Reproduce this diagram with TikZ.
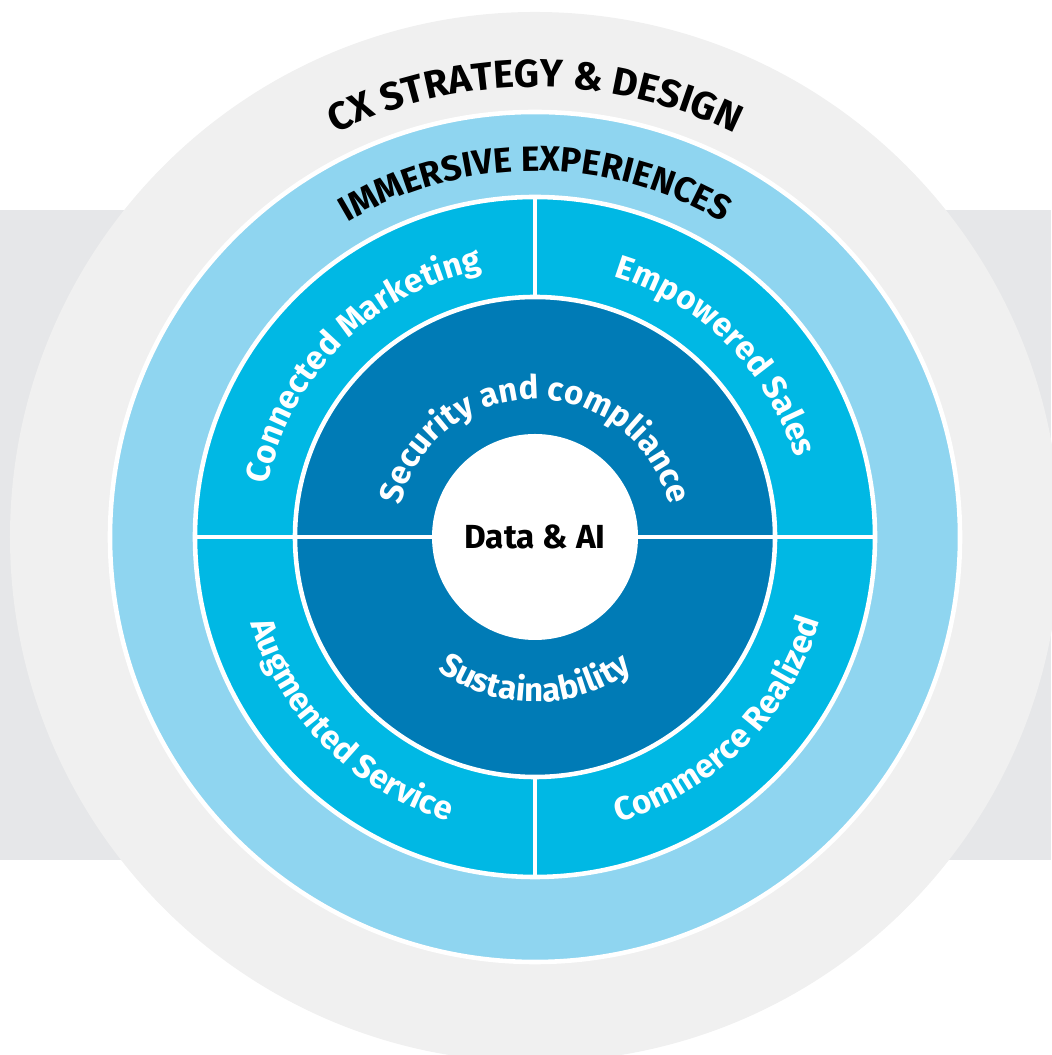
\documentclass[tikz,border=0pt]{standalone}
\usepackage{fontspec}
\setmainfont{Fira Sans}
\usetikzlibrary{decorations.text}

\definecolor{bandgray}{HTML}{E6E7E9}
\definecolor{ringgray}{HTML}{F0F0F0}
\definecolor{lightblue}{HTML}{8FD5F0}
\definecolor{midblue}{HTML}{00B8E4}
\definecolor{darkblue}{HTML}{007BB6}

\newcommand{\headfont}{\bfseries\fontsize{11.1}{13}\selectfont}
\newcommand{\subheadfont}{\bfseries\fontsize{10}{12}\selectfont}
\newcommand{\pillarfont}{\bfseries\fontsize{9.4}{11}\selectfont}
\newcommand{\basefont}{\bfseries\fontsize{9.4}{11}\selectfont}

\tikzset{
    ring/.style={circle, draw=white, line width=1.3pt},
    divider/.style={draw=white, line width=1.3pt},
    headtext/.style 2 args={decorate, decoration={text along path, text align=center,
        text={|#1|#2}}},
    pillartext/.style 2 args={decorate, decoration={text along path, text align=center,
        text color=white, text={|#1|#2}}}
}

\begin{document}
\begin{tikzpicture}
    \useasboundingbox (-5.35,-5.18) rectangle (5.16,5.37);
    \fill[bandgray] (-5.35,-3.23) rectangle (5.16,3.27);

    \node[circle, fill=ringgray, minimum size=10.5cm] (cx) at (0, 0) {};
    \node[ring, fill=lightblue, minimum size=8.5cm] (immersive) at (0, 0) {};
    \node[ring, fill=midblue, minimum size=6.8cm] (pillars) at (0, 0) {};
    \node[ring, fill=darkblue, minimum size=4.8cm] (base) at (0, 0) {};

    \coordinate (top) at (pillars.north);
    \coordinate (bottom) at (pillars.south);
    \draw[divider] (pillars.west) -- (pillars.east);
    \draw[divider] (base.north) -- (top);
    \draw[divider] (base.south) -- (bottom);

    \node[circle, fill=white, minimum size=2.06cm, font=\bfseries\fontsize{9.5}{11}\selectfont] (core) at (0, 0) {Data \& AI};

    % curved labels
    \path[headtext={\headfont}{CX STRATEGY {\&} DESIGN}] (180:4.50) arc[start angle=180, end angle=0, radius=4.50];
    \path[headtext={\subheadfont}{IMMERSIVE EXPERIENCES}] (180:3.66) arc[start angle=180, end angle=0, radius=3.66];

    \path[pillartext={\pillarfont}{Connected Marketing}] (180:2.72) arc[start angle=180, end angle=90, radius=2.72];
    \path[pillartext={\pillarfont}{Empowered Sales}] (90:2.72) arc[start angle=90, end angle=0, radius=2.72];
    \path[pillartext={\pillarfont}{Augmented Service}] (180:2.97) arc[start angle=180, end angle=270, radius=2.97];
    \path[pillartext={\pillarfont}{Commerce Realized}] (270:2.97) arc[start angle=270, end angle=360, radius=2.97];

    \path[pillartext={\basefont}{Security and compliance}] (180:1.38) arc[start angle=180, end angle=0, radius=1.38];
    \path[pillartext={\basefont}{Sustainability}] (180:1.65) arc[start angle=180, end angle=360, radius=1.65];
\end{tikzpicture}
\end{document}
